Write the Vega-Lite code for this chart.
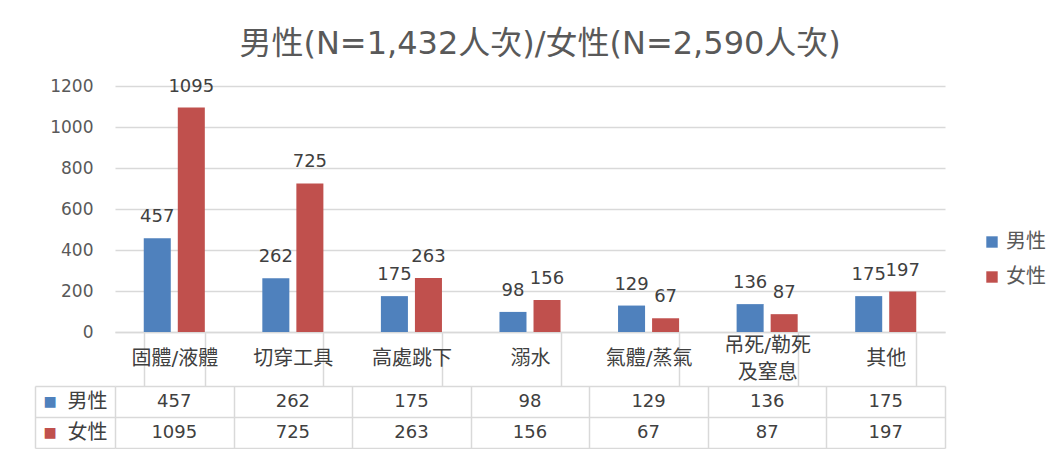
{
  "$schema": "https://vega.github.io/schema/vega-lite/v6.json",
  "background": "white",
  "padding": {"top": 28, "left": 34, "right": 5, "bottom": 0},
  "spacing": 54,
  "bounds": "flush",
  "config": {
    "view": {"stroke": null},
    "font": "DejaVu Sans, Noto Sans CJK TC",
    "axis": {"labelFont": "DejaVu Sans, Noto Sans CJK TC"},
    "legend": {"labelFont": "Noto Sans CJK TC"}
  },
  "title": {
    "text": "男性(N=1,432人次)/女性(N=2,590人次)",
    "fontSize": 32,
    "font": "DejaVu Sans, Noto Sans CJK TC",
    "fontWeight": "normal",
    "color": "#595959",
    "anchor": "middle",
    "offset": 16
  },
  "datasets": {
    "injury": [
      {"category": "固體/液體", "sex": "男性", "count": 457},
      {"category": "固體/液體", "sex": "女性", "count": 1095},
      {"category": "切穿工具", "sex": "男性", "count": 262},
      {"category": "切穿工具", "sex": "女性", "count": 725},
      {"category": "高處跳下", "sex": "男性", "count": 175},
      {"category": "高處跳下", "sex": "女性", "count": 263},
      {"category": "溺水", "sex": "男性", "count": 98},
      {"category": "溺水", "sex": "女性", "count": 156},
      {"category": "氣體/蒸氣", "sex": "男性", "count": 129},
      {"category": "氣體/蒸氣", "sex": "女性", "count": 67},
      {"category": "吊死/勒死及窒息", "sex": "男性", "count": 136},
      {"category": "吊死/勒死及窒息", "sex": "女性", "count": 87},
      {"category": "其他", "sex": "男性", "count": 175},
      {"category": "其他", "sex": "女性", "count": 197}
    ]
  },
  "vconcat": [
    {
      "width": 830,
      "height": 246,
      "data": {"name": "injury"},
      "encoding": {
        "x": {
          "field": "category", "type": "nominal", "sort": null,
          "scale": {"paddingInner": 0.485, "paddingOuter": 0.2425},
          "axis": {
            "title": null, "labelAngle": 0, "grid": false,
            "tickBand": "extent", "tickSize": 54, "tickColor": "#d9d9d9", "tickWidth": 1.5,
            "domainColor": "#d9d9d9", "domainWidth": 1.5,
            "labelPadding": {"condition": {"test": "datum.value == '吊死/勒死及窒息'", "value": -41}, "value": -28},
            "labelBaseline": "middle", "labelFontSize": 20,
            "labelColor": "#404040", "labelLineHeight": 27,
            "labelExpr": "datum.label == '吊死/勒死及窒息' ? ['吊死/勒死', '及窒息'] : datum.label"
          }
        },
        "xOffset": {
          "field": "sex", "type": "nominal",
          "scale": {"domain": ["男性", "女性"], "paddingInner": 0.206, "paddingOuter": 0}
        },
        "y": {
          "field": "count", "type": "quantitative",
          "scale": {"domain": [0, 1200]},
          "axis": {
            "title": null, "values": [0, 200, 400, 600, 800, 1000, 1200], "format": "d",
            "domain": false, "ticks": false, "labelPadding": 22, "labelFontSize": 17,
            "labelColor": "#595959", "gridColor": "#d9d9d9", "gridWidth": 1.5
          }
        }
      },
      "layer": [
        {
          "mark": {"type": "bar"},
          "encoding": {
            "color": {
              "field": "sex", "type": "nominal",
              "scale": {"domain": ["男性", "女性"], "range": ["#4f81bd", "#c0504d"]},
              "legend": {
                "orient": "none", "legendX": 867, "legendY": 146, "title": null,
                "symbolType": "square", "symbolSize": 130, "symbolStrokeWidth": 0,
                "labelFontSize": 20, "labelColor": "#595959", "rowPadding": 15
              }
            }
          }
        },
        {
          "mark": {"type": "text", "dy": -21, "baseline": "middle", "fontSize": 18, "color": "#404040"},
          "encoding": {"text": {"field": "count", "type": "quantitative"}}
        }
      ]
    },
    {
      "width": 830,
      "height": 62,
      "data": {"name": "injury"},
      "encoding": {
        "x": {
          "field": "category", "type": "nominal", "sort": null,
          "scale": {"paddingInner": 0, "paddingOuter": 0},
          "axis": {
            "title": null, "grid": true, "tickBand": "extent", "labels": false,
            "ticks": false, "domain": false, "gridColor": "#d9d9d9", "gridWidth": 1.5
          }
        }
      },
      "layer": [
        {
          "mark": {"type": "text", "fontSize": 18, "color": "#404040"},
          "encoding": {
            "text": {"field": "count", "type": "quantitative"},
            "y": {
              "field": "sex", "type": "nominal", "sort": ["男性", "女性"],
              "scale": {"paddingInner": 0, "paddingOuter": 0},
              "axis": {
                "title": null, "orient": "left", "offset": 0, "domain": false,
                "ticks": true, "tickBand": "extent", "tickSize": 80, "tickColor": "#d9d9d9", "tickWidth": 1.5,
                "grid": true, "gridColor": "#d9d9d9", "gridWidth": 1.5,
                "labelAlign": "right", "labelBaseline": "middle", "labelPadding": -72,
                "labelFontSize": 20, "labelColor": "#404040"
              }
            }
          }
        },
        {
          "mark": {"type": "text", "opacity": 0},
          "encoding": {
            "text": {"value": ""},
            "y": {
              "field": "sex", "type": "nominal", "sort": ["男性", "女性"],
              "axis": {
                "title": null, "orient": "left", "offset": 80, "domain": true,
                "domainColor": "#d9d9d9", "domainWidth": 1.5,
                "ticks": false, "grid": false,
                "labelExpr": "'■'", "labelAlign": "left", "labelBaseline": "middle",
                "labelPadding": -8, "labelFontSize": 14,
                "labelColor": {"condition": {"test": "datum.value == '男性'", "value": "#4f81bd"}, "value": "#c0504d"}
              }
            }
          }
        }
      ],
      "resolve": {"axis": {"y": "independent"}}
    }
  ]
}
